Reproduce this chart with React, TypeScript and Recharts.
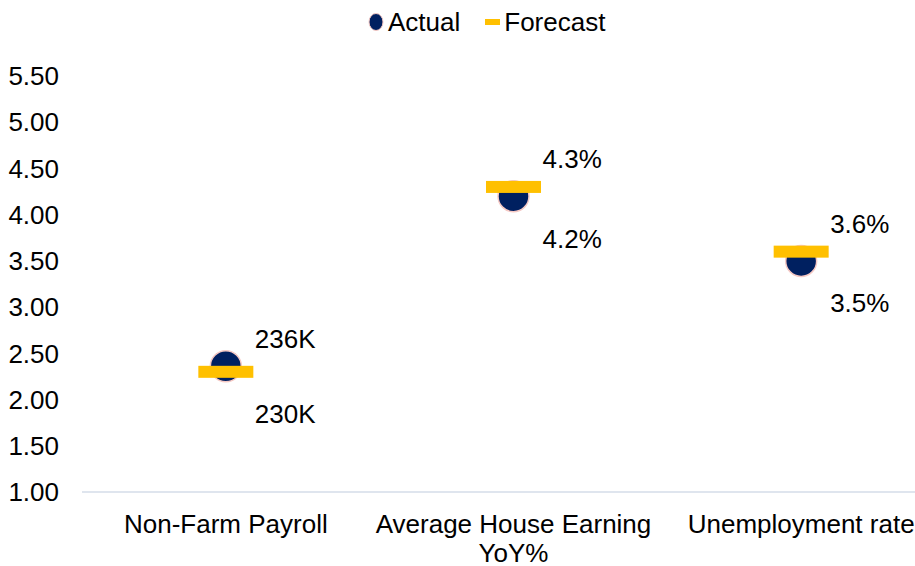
import { ComposedChart, LabelList, Legend, Line, XAxis, YAxis } from "recharts"

const categories = ["Non-Farm Payroll", "Average House Earning YoY%", "Unemployment rate"]
const actual = [2.36, 4.2, 3.5]
const forecast = [2.3, 4.3, 3.6]
const actualLabels = ["236K", "4.2%", "3.5%"]
const forecastLabels = ["230K", "4.3%", "3.6%"]
const yTicks = [1, 1.5, 2, 2.5, 3, 3.5, 4, 4.5, 5, 5.5]

const data = categories.map((name, i) => ({ name, actual: actual[i], forecast: forecast[i] }))

const FONT = "'Liberation Sans', Arial, sans-serif"
const NAVY = "#002060"
const GOLD = "#FFC000"

let ctx: CanvasRenderingContext2D | null = null
const measure = (s: string) => {
  if (!ctx) {
    ctx = document.createElement("canvas").getContext("2d")
    if (ctx) ctx.font = `26px ${FONT}`
  }
  return ctx ? ctx.measureText(s).width : s.length * 14
}

// greedy word wrap into the category band
const wrap = (label: string, maxWidth: number) => {
  const lines: string[] = []
  let cur = ""
  for (const w of label.split(" ")) {
    const next = cur ? `${cur} ${w}` : w
    if (cur && measure(next) > maxWidth) {
      lines.push(cur)
      cur = w
    } else {
      cur = next
    }
  }
  if (cur) lines.push(cur)
  return lines
}

const ActualDot = (props: any) => {
  const { cx, cy, index } = props
  if (cx == null || cy == null) return null
  return <circle key={`a-${index}`} cx={cx} cy={cy} r={15.5} fill={NAVY} stroke="#f6c9c4" strokeWidth={1.5} />
}

const ForecastDot = (props: any) => {
  const { cx, cy, index } = props
  if (cx == null || cy == null) return null
  return <rect key={`f-${index}`} x={cx - 27.5} y={cy - 6} width={55} height={12} fill={GOLD} />
}

// higher of the two values gets its label above, the other below
const makeLabel = (texts: string[], own: number[], other: number[]) => (props: any) => {
  const { x, y, index } = props
  const above = own[index] > other[index]
  const cy = y + (above ? -28 : 42)
  return (
    <text key={`l-${index}`} x={x + 29} y={cy + 9.4} fontSize={26} fontFamily={FONT} fill="#000">
      {texts[index]}
    </text>
  )
}

const CategoryTick = (props: any) => {
  const { x, y, payload } = props
  const lines = wrap(String(payload.value), 287)
  return (
    <text x={x} y={y} textAnchor="middle" fontSize={26} fontFamily={FONT} fill="#000">
      {lines.map((l, i) => (
        <tspan key={i} x={x} dy={i === 0 ? 18.5 : 29}>
          {l}
        </tspan>
      ))}
    </text>
  )
}

const LegendContent = () => (
  <div
    style={{
      display: "flex",
      alignItems: "center",
      height: 28,
      paddingLeft: 368,
      fontSize: 26,
      fontFamily: FONT,
      color: "#000",
      whiteSpace: "nowrap",
    }}
  >
    <svg width={16} height={20} style={{ marginRight: 4 }}>
      <ellipse cx={8} cy={10} rx={7} ry={8.5} fill={NAVY} stroke="#f6c9c4" strokeWidth={1} />
    </svg>
    <span>Actual</span>
    <svg width={15} height={8} style={{ marginLeft: 25, marginRight: 4 }}>
      <rect x={0} y={1} width={15} height={6} fill={GOLD} />
    </svg>
    <span>Forecast</span>
  </div>
)

export default function App() {
  return (
    <div style={{ position: "fixed", top: 0, left: 0, width: 915, height: 566, overflow: "hidden", background: "#fff" }}>
      <ComposedChart width={948} height={566} data={data} margin={{ top: 48, right: 3, bottom: 0, left: 0 }}>
        <Legend verticalAlign="top" content={<LegendContent />} wrapperStyle={{ top: 8, left: 0, width: 948 }} />
        <XAxis
          dataKey="name"
          scale="band"
          height={74}
          axisLine={{ stroke: "#d5dce8", strokeWidth: 1.5 }}
          tickLine={false}
          tickSize={0}
          tickMargin={22.5}
          interval={0}
          tick={<CategoryTick />}
        />
        <YAxis
          width={82}
          domain={[1, 5.5]}
          ticks={yTicks}
          tickFormatter={(v: number) => v.toFixed(2)}
          axisLine={false}
          tickLine={false}
          tickSize={0}
          tickMargin={23}
          tick={{ fill: "#000", fontSize: 26, fontFamily: FONT }}
        />
        <Line dataKey="actual" stroke="none" isAnimationActive={false} dot={<ActualDot />} activeDot={false}>
          <LabelList dataKey="actual" content={makeLabel(actualLabels, actual, forecast)} />
        </Line>
        <Line dataKey="forecast" stroke="none" isAnimationActive={false} dot={<ForecastDot />} activeDot={false}>
          <LabelList dataKey="forecast" content={makeLabel(forecastLabels, forecast, actual)} />
        </Line>
      </ComposedChart>
    </div>
  )
}
